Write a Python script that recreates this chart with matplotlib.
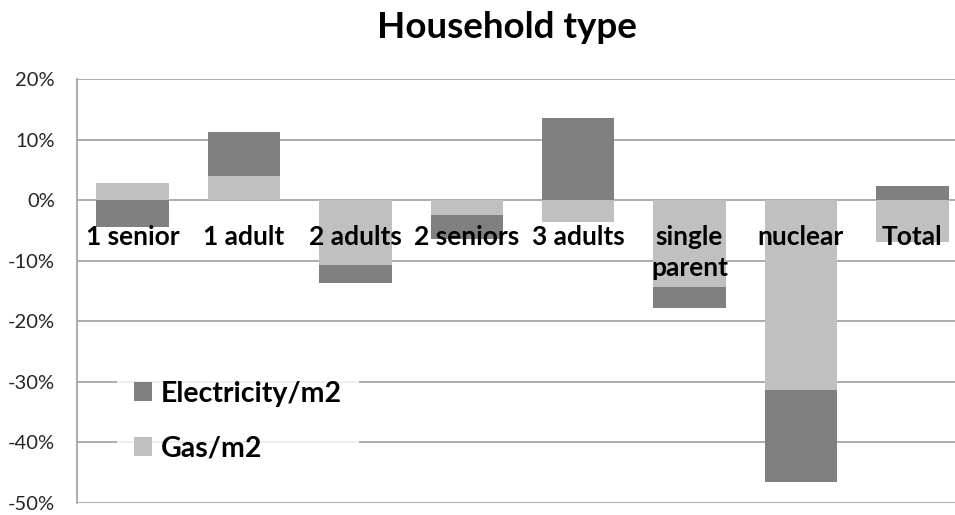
import matplotlib.pyplot as plt
import numpy as np

categories = ["1 senior", "1 adult", "2 adults", "2 seniors", "3 adults",
              "single\nparent", "nuclear", "Total"]
electricity = [-4.5, 7.3, -2.9, -4.0, 13.6, -3.55, -15.3, 2.4]
gas = [2.8, 4.0, -10.8, -2.5, -3.7, -14.35, -31.3, -6.9]
yticks = [20, 10, 0, -10, -20, -30, -40, -50]

ELEC_COLOR = "#808080"
GAS_COLOR = "#c0c0c0"
GRID_COLOR = "#a6a6a6"

plt.rcParams["font.family"] = ["Lato", "DejaVu Sans"]

fig = plt.figure(figsize=(9.55, 5.15), dpi=100)
ax = fig.add_axes([77 / 955, 1 - 502.7 / 515, 891 / 955, (502.7 - 79) / 515])

x = np.arange(len(categories))
width = 0.65

# stack positives and negatives separately, gas first then electricity
pos_base = np.zeros(len(categories))
neg_base = np.zeros(len(categories))
for values, color, label in [(gas, GAS_COLOR, "Gas/m2"), (electricity, ELEC_COLOR, "Electricity/m2")]:
    values = np.array(values)
    bottoms = np.where(values >= 0, pos_base, neg_base)
    ax.bar(x, values, width, bottom=bottoms, color=color, label=label, zorder=2)
    pos_base += np.where(values >= 0, values, 0)
    neg_base += np.where(values < 0, values, 0)

ax.set_xlim(-0.5, len(categories) - 0.5)
ax.set_ylim(-50, 20)
ax.set_yticks(yticks)
ax.set_yticklabels([f"{t}%" for t in yticks], fontsize=14.5, color="#262626")
ax.tick_params(axis="y", length=0, pad=16)
ax.set_xticks([])
ax.grid(axis="y", color=GRID_COLOR, linewidth=1.3, zorder=0)
for side in ["top", "right", "bottom"]:
    ax.spines[side].set_visible(False)
ax.spines["left"].set_color(GRID_COLOR)
ax.spines["left"].set_linewidth(1.3)

# category names sit inside the plot just below the zero line
for xi, name in zip(x, categories):
    for j, line in enumerate(name.split("\n")):
        ax.annotate(line, (xi, -7.45), xytext=(0, -22 * j), textcoords="offset points",
                    ha="center", va="baseline", fontsize=19, fontweight="bold",
                    color="black", zorder=3)

fig.text(507 / 955, 1 - 28 / 515, "Household type", ha="center", va="center",
         fontsize=26.5, fontweight="bold")

handles, labels = ax.get_legend_handles_labels()
leg = ax.legend(handles[::-1], labels[::-1], loc="center left",
                bbox_to_anchor=(117 / 955, 1 - 421 / 515), bbox_transform=fig.transFigure,
                borderaxespad=0, frameon=True, fancybox=False, borderpad=0.6,
                handlelength=0.64, handleheight=0.64, handletextpad=0.3,
                labelspacing=1.0, prop={"size": 20.5, "weight": "bold"})
leg.get_frame().set_facecolor("white")
leg.get_frame().set_edgecolor("none")
leg.set_zorder(4)

fig.savefig("out.png", dpi=100)
